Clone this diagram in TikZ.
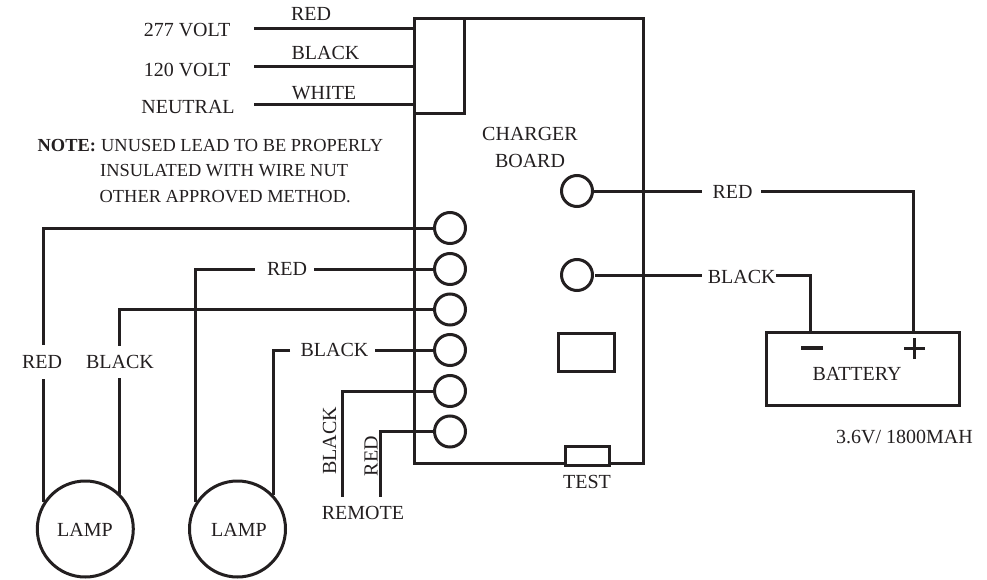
\documentclass[tikz,border=0pt]{standalone}
\usepackage{fontspec}
\setmainfont{Liberation Serif}
\definecolor{ink}{HTML}{231F20}
\tikzset{
 wire/.style={draw=ink,line width=3pt,line join=miter},
 lab/.style={text=ink,inner sep=0pt,font=\fontsize{20}{22}\selectfont,anchor=center},
 small/.style={text=ink,inner sep=0pt,font=\fontsize{18.4}{20}\selectfont,anchor=base west},
 term/.style={circle,draw=ink,line width=3pt,minimum size=31pt,inner sep=0pt},
 lampnode/.style={circle,draw=ink,line width=3pt,minimum size=96pt,inner sep=0pt},
 box/.style={rectangle,draw=ink,line width=3pt,inner sep=0pt},
}
\begin{document}
\begin{tikzpicture}[x=1pt,y=-1pt]
\useasboundingbox (0,0) rectangle (987,580);
% board
\node[box,minimum width=229pt,minimum height=444pt] (board) at (528.5,241) {};
\node[box,minimum width=50pt,minimum height=95pt] (block) at (439,66.5) {};
\node[box,minimum width=56pt,minimum height=38pt] (relay) at (586,352) {};
\node[box,fill=white,minimum width=44pt,minimum height=19pt] (testbox) at (587,455.5) {};
% terminals
\foreach \n/\y in {a/228,b/269,c/309.5,d/350,e/391,f/431.5}{\node[term] (t\n) at (450,\y) {};}
\node[term] (p) at (577,191) {};
\node[term] (q) at (577,275) {};
% lamps and battery
\node[lampnode] (lamp1) at (85.3,529) {};
\node[lampnode] (lamp2) at (237.5,529) {};
\node[lab] (lt1) at (85,530) {LAMP};
\node[lab] (lt2) at (239,530) {LAMP};
\node[box,minimum width=193pt,minimum height=73pt] (batt) at (862.5,368.5) {};
\node[lab] (battlab) at (857,374) {BATTERY};
\node[lab] (test) at (587,482) {TEST};
\node[lab] (remote) at (363,513) {REMOTE};
\node[lab] (cb1) at (530,134) {CHARGER};
\node[lab] (cb2) at (530,161) {BOARD};
\node[lab,anchor=base] (cap) at (904.5,443) {3.6V/ 1800MAH};
% supply
\node[lab] (v277) at (187,30) {277 VOLT};
\node[lab] (v120) at (187,70) {120 VOLT};
\node[lab] (vn) at (188,107) {NEUTRAL};
\node[lab] (lr) at (311,14) {RED};
\node[lab] (lbk) at (325.5,53) {BLACK};
\node[lab] (lw) at (324,93) {WHITE};
\coordinate (s1) at (254,29);
\coordinate (s2) at (254,67);
\coordinate (s3) at (254,105);
\draw[wire] (s1) -- (s1-|block.west);
\draw[wire] (s2) -- (s2-|block.west);
\draw[wire] (s3) -- (s3-|block.west);
% note
\node[small,font=\fontsize{18.4}{20}\selectfont\bfseries] (note) at (37.5,152) {NOTE:};
\node[small] (n1) at (101,152) {UNUSED LEAD TO BE PROPERLY};
\node[small] (n2) at (100,177) {INSULATED WITH WIRE NUT};
\node[small] (n3) at (99.5,202.5) {OTHER APPROVED METHOD.};
% lamp wires
\node[lab] (w1) at (42,362) {RED};
\node[lab] (w2) at (120,362) {BLACK};
\node[lab] (w3) at (287,269) {RED};
\node[lab] (w4) at (334.5,349.5) {BLACK};
\coordinate (w1a) at (43,345); \coordinate (w1b) at (43,379);
\coordinate (w2a) at (119.5,346); \coordinate (w2b) at (119.5,378);
\coordinate (l1a) at (43,502); \coordinate (l1b) at (119.5,494);
\coordinate (l2a) at (195.5,502); \coordinate (l2b) at (273.5,495);
\coordinate (w3a) at (255,269); \coordinate (w3b) at (314,269);
\coordinate (w4a) at (290,350); \coordinate (w4b) at (375,350);
\draw[wire] (ta.west) -| (w1a);
\draw[wire] (w1b) -- (l1a);
\draw[wire] (tc.west) -| (w2a);
\draw[wire] (w2b) -- (l1b);
\draw[wire] (tb.west) -- (w3b);
\draw[wire] (w3a) -| (l2a);
\draw[wire] (td.west) -- (w4b);
\draw[wire] (w4a) -| (l2b);
% remote
\coordinate (r1) at (342,497);
\coordinate (r2) at (380,497);
\draw[wire] (te.west) -| (r1);
\draw[wire] (tf.west) -| (r2);
\node[lab,rotate=90] (rb) at (329.5,441) {BLACK};
\node[lab,rotate=90] (rr) at (371,456) {RED};
% battery wires
\node[lab] (br) at (732.5,192) {RED};
\node[lab] (bb) at (741.7,276.7) {BLACK};
\coordinate (pa) at (702,192); \coordinate (pb) at (761,192);
\coordinate (qa) at (702,275.5); \coordinate (qb) at (776,275.5);
\coordinate (pe) at (593,192); \coordinate (qe) at (595,275.5);
\coordinate (plus) at (914.5,348.5);
\coordinate (minus) at (812,348);
\draw[wire] (pe) -- (pa);
\draw[wire] (pb) -| (batt.north-|913,0);
\draw[wire] (qe) -- (qa);
\draw[wire] (qb) -| (batt.north-|810,0);
\draw[draw=ink,line width=4pt] ([xshift=-11pt]minus) -- ([xshift=11pt]minus);
\draw[draw=ink,line width=2.6pt] ([xshift=-10.5pt]plus) -- ([xshift=10.5pt]plus) ([yshift=-10.5pt]plus) -- ([yshift=10.5pt]plus);
\end{tikzpicture}
\end{document}
